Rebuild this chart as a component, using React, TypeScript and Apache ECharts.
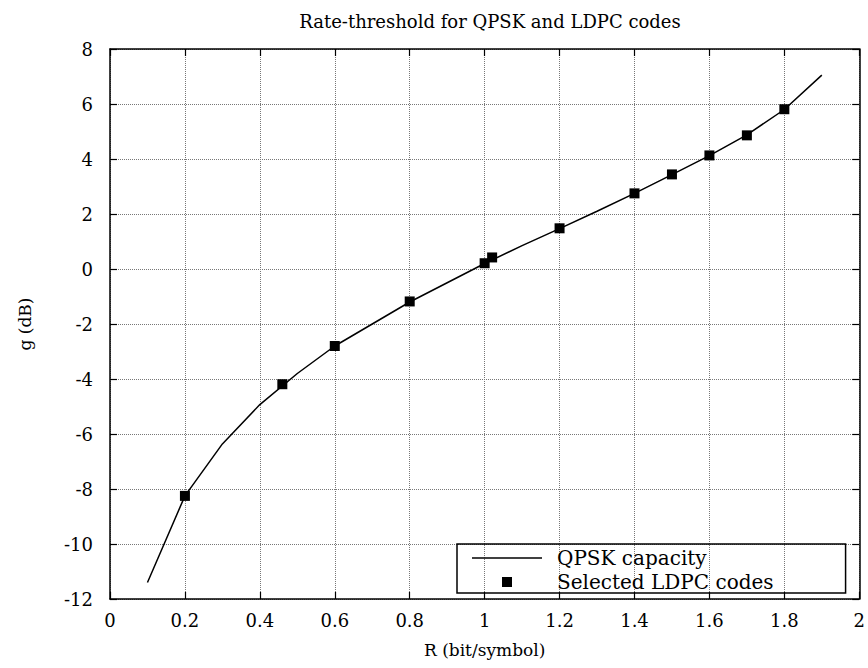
import React, { useEffect, useRef } from "react";
import * as echarts from "echarts";

const rateValues = [0.1, 0.2, 0.3, 0.4, 0.5, 0.6, 0.7, 0.8, 0.9, 1.0, 1.1, 1.2, 1.3, 1.4, 1.5, 1.6, 1.7, 1.8, 1.9];
const capacityValues = [-11.4, -8.25, -6.36, -4.93, -3.8, -2.8, -2.0, -1.2, -0.5, 0.2, 0.85, 1.47, 2.1, 2.75, 3.43, 4.12, 4.88, 5.8, 7.05];

const ldpcRates = [0.2, 0.46, 0.6, 0.8, 1.0, 1.02, 1.2, 1.4, 1.5, 1.6, 1.7, 1.8];
const ldpcThresholds = [-8.25, -4.19, -2.8, -1.18, 0.21, 0.42, 1.48, 2.75, 3.44, 4.13, 4.86, 5.81];

const titleText = "Rate-threshold for QPSK and LDPC codes";
const xName = "R (bit/symbol)";
const yName = "g (dB)";
const seriesNames = ["QPSK capacity", "Selected LDPC codes"];

const FONT = "DejaVu Serif";

export default function App() {
  const ref = useRef<HTMLDivElement>(null);
  useEffect(() => {
    if (!ref.current) return;
    const chart = echarts.init(ref.current, undefined, { renderer: "svg" });
    const lineData = rateValues.map((r, i) => [r, capacityValues[i]]);
    const pointData = ldpcRates.map((r, i) => [r, ldpcThresholds[i]]);
    const axisLine = { show: true, onZero: false, lineStyle: { color: "#000", width: 1.5 } };
    const tick = { show: true, inside: true, length: 7, lineStyle: { color: "#000", width: 1.2 } };
    const label = { color: "#000", fontFamily: FONT, fontSize: 18 };
    const grid = { show: true, lineStyle: { type: "dotted", color: "#777", width: 1 } };
    chart.setOption({
      animation: false,
      backgroundColor: "#fff",
      title: {
        text: titleText,
        left: 485,
        top: 7,
        textAlign: "center",
        textStyle: { fontFamily: FONT, fontSize: 18, fontWeight: "normal", color: "#000" },
      },
      grid: { left: 110, top: 49, width: 750, height: 550, containLabel: false },
      legend: {
        orient: "vertical",
        left: 457,
        top: 544,
        borderColor: "#000",
        borderWidth: 1.5,
        padding: [4, 72, 1, 15],
        itemWidth: 70,
        itemHeight: 10,
        itemGap: 4,
        symbolKeepAspect: true,
        textStyle: { fontFamily: FONT, fontSize: 20, color: "#000", padding: [0, 0, 0, 10] },
        data: [
          { name: seriesNames[0], icon: "path://M0,0 L70,0 L70,1.5 L0,1.5 Z", itemStyle: { color: "#000" } },
          { name: seriesNames[1], icon: "path://M0,0 L10,0 L10,10 L0,10 Z", itemStyle: { color: "#000", opacity: 1 } },
        ],
      },
      xAxis: [
        {
          type: "value",
          min: 0,
          max: 2,
          interval: 0.2,
          position: "bottom",
          name: xName,
          nameLocation: "middle",
          nameGap: 42,
          nameTextStyle: { fontFamily: FONT, fontSize: 17, color: "#000" },
          axisLine,
          axisTick: tick,
          axisLabel: { ...label, margin: 12 },
          splitLine: grid,
        },
        {
          type: "value",
          min: 0,
          max: 2,
          interval: 0.2,
          position: "top",
          axisLine,
          axisTick: tick,
          axisLabel: { show: false },
          splitLine: { show: false },
        },
      ],
      yAxis: [
        {
          type: "value",
          min: -12,
          max: 8,
          interval: 2,
          position: "left",
          name: yName,
          nameLocation: "middle",
          nameGap: 77,
          nameTextStyle: { fontFamily: FONT, fontSize: 17, color: "#000" },
          axisLine,
          axisTick: tick,
          axisLabel: { ...label, margin: 17 },
          splitLine: grid,
        },
        {
          type: "value",
          min: -12,
          max: 8,
          interval: 2,
          position: "right",
          axisLine,
          axisTick: tick,
          axisLabel: { show: false },
          splitLine: { show: false },
        },
      ],
      series: [
        {
          name: seriesNames[0],
          type: "line",
          data: lineData,
          symbol: "none",
          lineStyle: { color: "#000", width: 1.5 },
          itemStyle: { color: "#000" },
          z: 2,
        },
        {
          name: seriesNames[1],
          type: "scatter",
          data: pointData,
          symbol: "rect",
          symbolSize: 10,
          itemStyle: { color: "#000", opacity: 1 },
          z: 3,
        },
      ],
    });
    return () => chart.dispose();
  }, []);
  return (
    <div
      ref={ref}
      style={{ position: "fixed", left: 0, top: 0, width: 868, height: 668, background: "#fff" }}
    />
  );
}
